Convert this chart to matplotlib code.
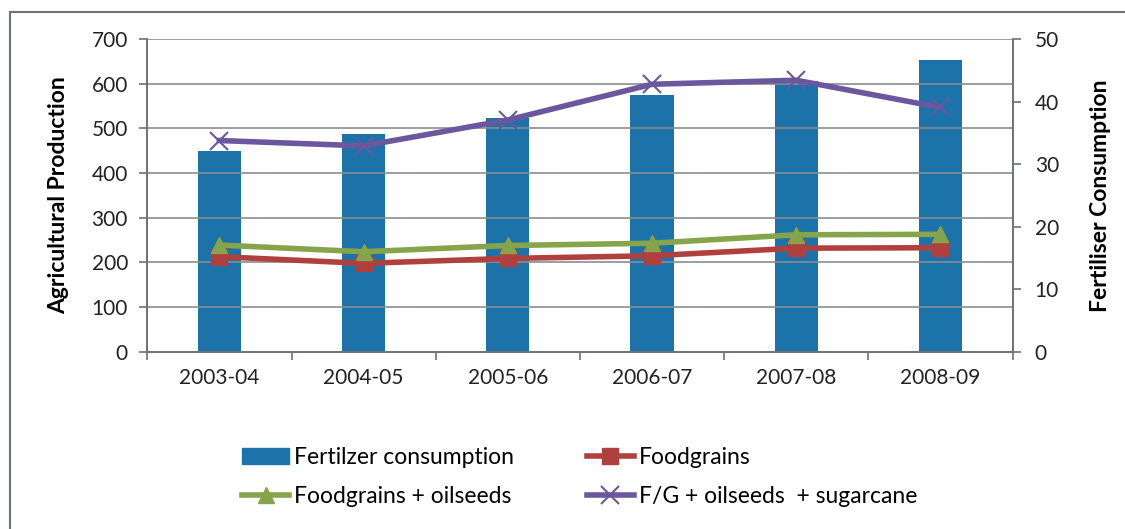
import numpy as np
import matplotlib.pyplot as plt
from matplotlib.lines import Line2D

plt.rcParams["font.family"] = ["Lato", "DejaVu Sans"]

years = ["2003-04", "2004-05", "2005-06", "2006-07", "2007-08", "2008-09"]
fertilizer = [32.1, 34.9, 37.4, 41.1, 43.3, 46.7]
foodgrains = [213, 198, 209, 215, 232, 233]
fg_oilseeds = [239, 224, 238, 243, 262, 263]
fg_oil_sugar = [473, 461, 519, 599, 608, 547]

grey = "#6d7278"
blue = "#1c73aa"
red = "#b0403e"
green = "#86a44a"
purple = "#6a579e"

fig = plt.figure(figsize=(11.25, 5.29), dpi=100)
ax = fig.add_axes([0.131, 0.335, 0.769, 0.591])
ax2 = ax.twinx()

x = np.arange(len(years))

# bars on right axis, drawn behind the lines
ax2.bar(x, fertilizer, width=0.3, color=blue, zorder=2)
ax2.set_ylim(0, 50)
ax2.set_yticks(range(0, 51, 10))
ax.set_zorder(ax2.get_zorder() + 1)
ax.patch.set_visible(False)

ax.plot(x, foodgrains, color=red, lw=4, marker="s", ms=11, zorder=4)
ax.plot(x, fg_oilseeds, color=green, lw=4, marker="^", ms=12, zorder=5)
ax.plot(x, fg_oil_sugar, color=purple, lw=4, marker="x", ms=13, mew=1.5, zorder=6)

ax.set_ylim(0, 700)
ax.set_yticks(range(0, 701, 100))
ax.set_xlim(-0.5, len(years) - 0.5)
ax.set_xticks(x)
ax.set_xticklabels(years)
ax.set_xticks(np.arange(-0.5, len(years), 1), minor=True)
ax.tick_params(axis="x", which="major", length=0, pad=12, labelsize=15, colors="#222222")
ax.tick_params(axis="x", which="minor", length=6, direction="out", color=grey, width=1.2)
ax.tick_params(axis="y", length=6, width=1.2, color=grey, labelsize=15, labelcolor="#222222", pad=8)
ax2.tick_params(axis="y", length=6, width=1.2, color=grey, labelsize=15, labelcolor="#222222", pad=10)

ax.yaxis.grid(True, color="#8a8d90", lw=1.2)
ax.set_axisbelow(True)
for a in (ax, ax2):
    for s in a.spines.values():
        s.set_color(grey)
        s.set_linewidth(1.2)
    a.spines["top"].set_visible(False)

ax.set_ylabel("Agricultural Production", fontsize=16.5, fontweight="bold", labelpad=16)
ax2.set_ylabel("Fertiliser Consumption", fontsize=16.5, fontweight="bold", labelpad=22)

# legend
h_bar = plt.Rectangle((0, 0), 1, 1, color=blue)
h_red = Line2D([], [], color=red, lw=4, marker="s", ms=11)
h_green = Line2D([], [], color=green, lw=4, marker="^", ms=12)
h_purple = Line2D([], [], color=purple, lw=4, marker="x", ms=13, mew=1.5)
fig.legend([h_bar, h_green, h_red, h_purple],
           ["Fertilzer consumption", "Foodgrains + oilseeds", "Foodgrains", "F/G + oilseeds  + sugarcane"],
           ncol=2, loc="upper left", bbox_to_anchor=(0.205, 0.177), frameon=False,
           fontsize=16.5, handlelength=2.05, handletextpad=0.2, columnspacing=3.2,
           labelspacing=0.8, borderpad=0)

# chart border (left and top edges visible)
fig.add_artist(Line2D([0.009, 0.009], [0, 0.977], color=grey, lw=1.5, transform=fig.transFigure))
fig.add_artist(Line2D([0.009, 1], [0.977, 0.977], color=grey, lw=1.5, transform=fig.transFigure))

fig.savefig("out.png", dpi=100)
